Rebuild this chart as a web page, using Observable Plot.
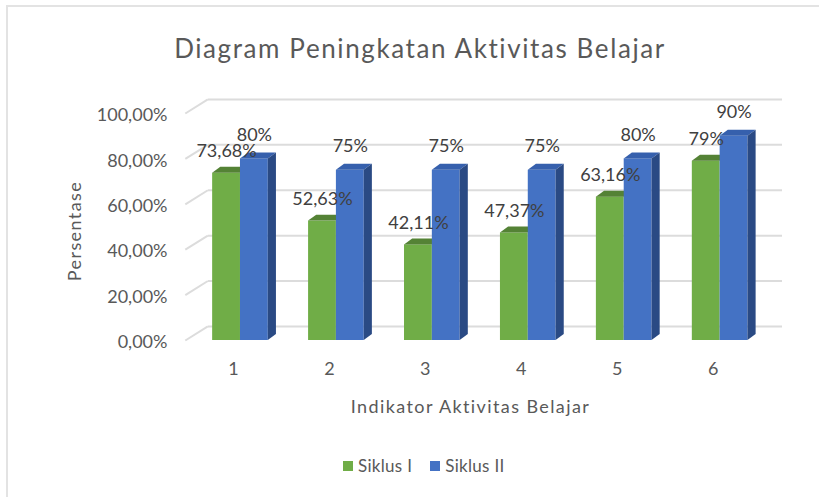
<!DOCTYPE html>
<html>
<head>
<meta charset="utf-8">
<script src="https://cdn.jsdelivr.net/npm/d3@7"></script>
<script src="https://cdn.jsdelivr.net/npm/@observablehq/plot@0.6"></script>
<style>
  html, body { margin: 0; padding: 0; background: #fff; }
  #wrap { position: relative; width: 819px; height: 497px; overflow: hidden; font-family: Lato, sans-serif; }
  #border { position: absolute; left: 6px; top: 5px; right: -10px; bottom: -10px; border-left: 2px solid #e3e3e3; border-top: 2px solid #e3e3e3; }
  #title { position: absolute; left: 0; top: 31px; width: 840px; text-align: center; font-size: 26px; letter-spacing: 1.6px; color: #595959; line-height: 34px; }
  #chart { position: absolute; left: 0; top: 80px; }
  #legend { position: absolute; left: 343px; top: 456px; font-size: 17px; letter-spacing: 0.3px; color: #595959; display: flex; align-items: center; line-height: 20px; }
  .sw { display: inline-block; width: 10px; height: 10px; margin-right: 5px; }
  .item { display: flex; align-items: center; margin-right: 18px; }
  .axtitle { letter-spacing: 1.4px; }
</style>
</head>
<body>
<div id="wrap">
  <div id="border"></div>
  <div id="title">Diagram Peningkatan Aktivitas Belajar</div>
  <div id="chart"></div>
  <div id="legend"></div>
</div>
<script>
// ---- data ----
const categories = ["1", "2", "3", "4", "5", "6"];
const seriesNames = ["Siklus I", "Siklus II"];
const siklusI = [73.68, 52.63, 42.11, 47.37, 63.16, 79];
const siklusII = [80, 75, 75, 75, 80, 90];
const labelsI = ["73,68%", "52,63%", "42,11%", "47,37%", "63,16%", "79%"];
const labelsII = ["80%", "75%", "75%", "75%", "80%", "90%"];
const yTicks = [0, 20, 40, 60, 80, 100];
const yTickLabels = ["0,00%", "20,00%", "40,00%", "60,00%", "80,00%", "100,00%"];

// ---- styling / geometry constants ----
const colors = {
  greenFront: "#70ad47", greenTop: "#548235",
  blueFront: "#4472c4", blueTop: "#3660ad", blueSide: "#2a4a84",
  grid: "#dcdcdc", text: "#595959", label: "#404040"
};
const BAR_W = 0.29;     // bar width in x units
const DX = 0.085;       // 3D depth (x units)
const DY = 2.6;         // 3D depth (y units)
const WALL_DY = 6.2;    // back wall offset (y units)
const WALL_X0 = 0.5 - 0.075;
const WALL_X1 = 0.5 + 0.16;

const rows = categories.map((c, i) => ({
  cat: c, pos: i + 1, s1: siklusI[i], s2: siklusII[i], l1: labelsI[i], l2: labelsII[i]
}));

// top faces (parallelograms)
const topFaces = [];
rows.forEach(d => {
  const g = {x1: d.pos - BAR_W, x2: d.pos, v: d.s1, id: "g" + d.cat};
  const b = {x1: d.pos, x2: d.pos + BAR_W, v: d.s2, id: "b" + d.cat};
  for (const f of [g, b]) {
    topFaces.push({id: f.id, s: f.id[0], y: f.v, x1: f.x1, x2: f.x2});
    topFaces.push({id: f.id, s: f.id[0], y: f.v + DY, x1: f.x1 + DX, x2: f.x2 + DX});
  }
});
// side faces of blue bars
const sideFaces = [];
rows.forEach(d => {
  sideFaces.push({id: d.cat, x: d.pos + BAR_W, y1: 0, y2: d.s2});
  sideFaces.push({id: d.cat, x: d.pos + BAR_W + DX, y1: DY, y2: d.s2 + DY});
});

const chart = Plot.plot({
  width: 819,
  height: 350,
  marginLeft: 192,
  marginRight: 37,
  marginTop: 33,
  marginBottom: 90,
  x: {type: "linear", domain: [0.5, 6.65]},
  y: {domain: [0, 100]},
  style: {fontFamily: "Lato, sans-serif", fontSize: "18px", color: colors.text, background: "transparent", overflow: "visible"},
  marks: [
    // back wall gridlines
    Plot.ruleY(yTicks, {y: d => d + WALL_DY, insetLeft: 16, stroke: colors.grid, strokeWidth: 2}),
    // side wall diagonals
    Plot.link(yTicks, {x1: () => WALL_X0, x2: () => WALL_X1, y1: d => d, y2: d => d + WALL_DY, stroke: colors.grid, strokeWidth: 2}),
    // green bars
    Plot.rectY(rows, {x1: d => d.pos - BAR_W, x2: d => d.pos, y1: 0, y2: "s1", fill: colors.greenFront}),
    Plot.areaX(topFaces.filter(f => f.s === "g"), {y: "y", x1: "x1", x2: "x2", z: "id", fill: colors.greenTop}),
    // blue bars
    Plot.rectY(rows, {x1: d => d.pos, x2: d => d.pos + BAR_W, y1: 0, y2: "s2", fill: colors.blueFront}),
    Plot.areaX(topFaces.filter(f => f.s === "b"), {y: "y", x1: "x1", x2: "x2", z: "id", fill: colors.blueTop}),
    Plot.areaY(sideFaces, {x: "x", y1: "y1", y2: "y2", z: "id", fill: colors.blueSide}),
    // axes
    Plot.axisY(yTicks, {tickSize: 0, tickPadding: 25, dy: 2, tickFormat: d => yTickLabels[yTicks.indexOf(d)], label: null, fill: colors.text}),
    Plot.axisX(rows.map(d => d.pos), {tickSize: 0, tickPadding: 22, dx: -7, tickFormat: d => categories[d - 1], label: null, fill: colors.text}),
    // data labels
    Plot.text(rows, {x: d => d.pos - BAR_W / 2, y: "s1", text: "l1", dy: -22, fill: colors.label, fontSize: 18}),
    Plot.text(rows, {x: d => d.pos + BAR_W / 2, y: "s2", text: "l2", dy: -24, fill: colors.label, fontSize: 18}),
    // axis titles
    Plot.text(["Persentase"], {frameAnchor: "left", textAnchor: "middle", lineAnchor: "middle", dx: -117, dy: 4, rotate: -90, fill: colors.text, fontSize: 18, className: "axtitle"}),
    Plot.text(["Indikator Aktivitas Belajar"], {frameAnchor: "bottom", textAnchor: "middle", lineAnchor: "middle", dx: -17, dy: 67, fill: colors.text, fontSize: 18, className: "axtitle"})
  ]
});
document.getElementById("chart").appendChild(chart);

// legend
const legend = document.getElementById("legend");
[[seriesNames[0], colors.greenFront], [seriesNames[1], colors.blueFront]].forEach(([name, col]) => {
  const item = document.createElement("div");
  item.className = "item";
  const sw = document.createElement("span");
  sw.className = "sw";
  sw.style.background = col;
  const t = document.createElement("span");
  t.textContent = name;
  item.appendChild(sw);
  item.appendChild(t);
  legend.appendChild(item);
});
</script>
</body>
</html>
